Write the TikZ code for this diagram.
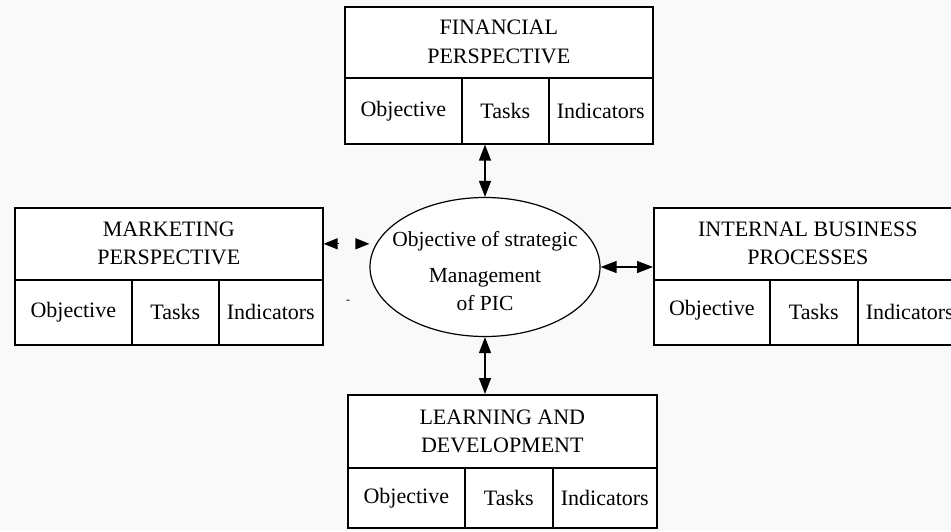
\documentclass[tikz,border=0pt]{standalone}
\usepackage{fontspec}
\setmainfont{Liberation Serif}
\usetikzlibrary{arrows.meta,shapes.geometric,calc}
\tikzset{
  cell/.style={draw=black, line width=1.6pt, fill=white, inner sep=0pt, anchor=north west,
    font=\fontsize{22}{28}\selectfont},
  ttl/.style={cell, align=center, minimum width=308pt},
  conn/.style={line width=1.3pt, {Triangle[length=16pt,width=12pt]}-{Triangle[length=16pt,width=12pt]}},
  tip/.style={line width=1.3pt, -{Triangle[length=14pt,width=11pt]}},
  ell/.style={draw=black, line width=1.2pt, fill=white, ellipse, inner sep=0pt,
    minimum width=230pt, minimum height=139pt},
  etext/.style={align=center, font=\fontsize{21.5}{28}\selectfont, inner sep=0pt}
}
\begin{document}
\begin{tikzpicture}[x=1pt,y=-1pt]
\fill[gray!5] (0,0) rectangle (951,531);
\useasboundingbox (0,0) rectangle (951,531);
% Financial
\node[ttl, minimum height=71pt, font=\fontsize{22}{29}\selectfont] (ft) at (344,6) {FINANCIAL\\PERSPECTIVE};
\node[cell, minimum width=117pt, minimum height=66pt] (fo) at (344,77) {Objective};
\node[cell, minimum width=87pt, minimum height=66pt] (fk) at (461,77) {Tasks};
\node[cell, minimum width=104pt, minimum height=66pt] (fi) at (548,77) {Indicators};
% Marketing
\node[ttl, minimum height=72pt] (mt) at (14,207) {MARKETING\\PERSPECTIVE};
\node[cell, minimum width=117pt, minimum height=65pt] (mo) at (14,279) {Objective};
\node[cell, minimum width=87pt, minimum height=65pt] (mk) at (131,279) {Tasks};
\node[cell, minimum width=104pt, minimum height=65pt] (mi) at (218,279) {Indicators};
% Internal
\node[ttl, minimum height=72pt, minimum width=308pt] (it) at (653,207) {INTERNAL BUSINESS\\PROCESSES};
\node[cell, minimum width=116pt, minimum height=65pt, text depth=8pt] (io) at (653,279) {Objective};
\node[cell, minimum width=88pt, minimum height=65pt] (ik) at (769,279) {Tasks};
\node[cell, minimum width=104pt, minimum height=65pt, align=left, text width=104pt] (ii) at (857,279) {\hspace*{8pt}Indicators};
% Learning
\node[ttl, minimum height=73pt, minimum width=309pt] (lt) at (347,394) {LEARNING AND\\DEVELOPMENT};
\node[cell, minimum width=117pt, minimum height=60pt] (lo) at (347,467) {Objective};
\node[cell, minimum width=88pt, minimum height=60pt] (lk) at (464,467) {Tasks};
\node[cell, minimum width=104pt, minimum height=60pt] (li) at (552,467) {Indicators};
% Centre
\node[ell] (el) at (485,267) {};
\node[etext, yshift=-4pt] (elt) at (el.center) {Objective of strategic\\[8pt]Management\\of PIC};
% connectors
\draw[conn] (el.north) -- (el.north |- fk.south);
\draw[conn] (el.south) -- (el.south |- lt.north);
\draw[conn] (el.east) -- (el.east -| it.west);
\coordinate (lm) at ([xshift=15pt]mt.east);
\coordinate (lr) at ([xshift=-13pt]mt.east -| el.west);
\draw[tip] (lm) -- (mt.east);
\draw[tip] (lr) -- (mt.east -| el.west);
\node[font=\fontsize{12}{14}\selectfont, inner sep=0pt] (dash) at (348,302) {-};
\end{tikzpicture}
\end{document}
